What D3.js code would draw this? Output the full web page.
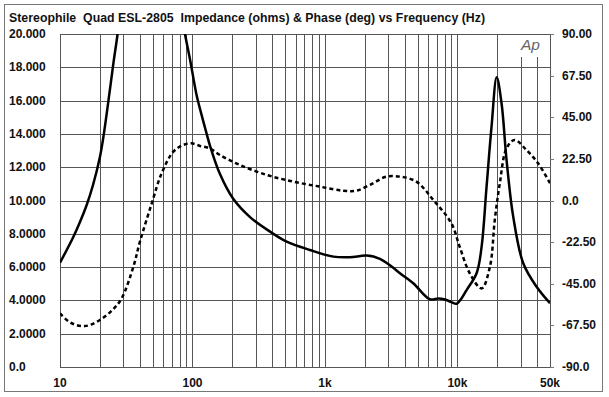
<!DOCTYPE html>
<html>
<head>
<meta charset="utf-8">
<script src="https://cdn.jsdelivr.net/npm/d3@7"></script>
<style>
  body { margin: 0; background: #fff; }
  text { font-family: "Liberation Sans", Arial, Helvetica, sans-serif; font-weight: bold; fill: #111; }
  .title { white-space: pre; }
</style>
</head>
<body>
<svg id="chart"></svg>
<script>
// impedance magnitude (ohms) vs frequency (Hz); values above 20 are off the top of the plot
const impFreq = [10, 12.6, 14.15, 15.9, 17.75, 20, 21.2, 23.8, 25.5, 27.2, 29, 45, 83, 87.8, 96, 107.6, 114, 128, 135.5,
  161, 203, 272, 385, 514, 771, 1157, 1545, 2065, 2600, 3185, 3680, 4640, 6200, 7200, 8050, 9000, 9860,
  10700, 11730, 13960, 15230, 16600, 18100, 19800, 21540, 23500, 26380, 31400, 39600, 50000];
const impOhms = [6.26, 7.81, 8.71, 9.73, 10.93, 12.6, 13.75, 16.64, 18.44, 20.0, 22, 35, 21.2, 20.0, 18.44, 16.3, 15.5, 14.0, 13.3,
  11.6, 10.1, 9.0, 8.13, 7.53, 7.03, 6.63, 6.59, 6.69, 6.5, 6.03, 5.63, 5.03, 4.07, 4.12, 4.05, 3.9, 3.8,
  4.1, 4.62, 5.63, 7.23, 10.83, 14.43, 17.4, 15.84, 12.43, 9.03, 6.23, 4.82, 3.83];

// phase (degrees) vs frequency (Hz)
const phFreq = [10, 12, 15.4, 20, 25, 29.2, 35.8, 40.1, 49.3, 58.5, 71.7, 85, 98, 114, 135, 161, 228, 364,
  577, 915, 1370, 1730, 2300, 2900, 3680, 4900, 6580, 9000, 10400, 12400, 15230, 17600, 19150, 20900,
  23500, 27000, 33200, 40800, 50000];
const phDeg = [-61, -66, -67.9, -64.6, -59, -52.9, -35.8, -22.3, -1.5, 14.7, 26.4, 30, 30.9, 29.5, 28.2, 24.6, 19.2, 13.8,
  10.2, 7.5, 5.3, 5.3, 9.3, 12.9, 12.9, 10.2, 0.3, -12.3, -25, -39.4, -47.5, -35.8, -10.5, 9.3,
  28.2, 32.7, 27.3, 20, 9.3];

const leftTicks = [0, 2, 4, 6, 8, 10, 12, 14, 16, 18, 20];
const leftLabels = ["0.0", "2.0000", "4.0000", "6.0000", "8.0000", "10.000", "12.000", "14.000", "16.000", "18.000", "20.000"];
const rightTicks = [-90, -67.5, -45, -22.5, 0, 22.5, 45, 67.5, 90];
const rightLabels = ["-90.0", "-67.50", "-45.00", "-22.50", "0.0", "22.50", "45.00", "67.50", "90.00"];
const bottomTicks = [10, 100, 1000, 10000, 50000];
const bottomLabels = ["10", "100", "1k", "10k", "50k"];

const titleText = "Stereophile  Quad ESL-2805  Impedance (ohms) & Phase (deg) vs Frequency (Hz)";

const W = 609, H = 397;
const plot = {left: 60, right: 550, top: 34, bottom: 367};

const svg = d3.select("#chart").attr("width", W).attr("height", H);

// outer frame
svg.append("rect")
  .attr("x", 4.5).attr("y", 4.5)
  .attr("width", 598).attr("height", 387)
  .attr("fill", "#fff").attr("stroke", "#777");

const x = d3.scaleLog().domain([10, 50000]).range([plot.left, plot.right]);
const yImp = d3.scaleLinear().domain([0, 20]).range([plot.bottom, plot.top]);
const yPh = d3.scaleLinear().domain([-90, 90]).range([plot.bottom, plot.top]);

// gridlines
const grid = svg.append("g").attr("shape-rendering", "crispEdges").attr("stroke", "#555").attr("stroke-width", 1);
grid.selectAll(".vline")
  .data(x.ticks())
  .join("line")
  .attr("class", "vline")
  .attr("x1", d => Math.round(x(d)) + 0.5).attr("x2", d => Math.round(x(d)) + 0.5)
  .attr("y1", plot.top).attr("y2", plot.bottom);
grid.selectAll(".hline")
  .data(leftTicks)
  .join("line")
  .attr("class", "hline")
  .attr("x1", plot.left).attr("x2", plot.right)
  .attr("y1", d => Math.round(yImp(d)) + 0.5).attr("y2", d => Math.round(yImp(d)) + 0.5);

// right-side phase tick marks
grid.selectAll(".rtick")
  .data(rightTicks)
  .join("line")
  .attr("class", "rtick")
  .attr("stroke", "#777")
  .attr("x1", plot.right).attr("x2", plot.right + 4)
  .attr("y1", d => Math.round(yPh(d)) + 0.5).attr("y2", d => Math.round(yPh(d)) + 0.5);

// Ap logo patch
svg.append("rect")
  .attr("x", x(24000)).attr("y", plot.top + 1)
  .attr("width", x(48000) - x(24000)).attr("height", 22)
  .attr("fill", "#fff");
svg.append("text")
  .attr("x", 521).attr("y", 50)
  .style("font-family", "'Liberation Sans', Arial, sans-serif")
  .style("font-weight", "normal")
  .style("font-style", "italic")
  .style("font-size", "15.5px")
  .style("fill", "#666")
  .text("Ap");

// clip to plot
svg.append("defs").append("clipPath").attr("id", "plot-clip")
  .append("rect")
  .attr("x", plot.left).attr("y", plot.top)
  .attr("width", plot.right - plot.left).attr("height", plot.bottom - plot.top);

const curves = svg.append("g").attr("clip-path", "url(#plot-clip)");

const impLine = d3.line()
  .x((d, i) => x(impFreq[i]))
  .y(d => yImp(d))
  .curve(d3.curveCatmullRom.alpha(0.5));
const phLine = d3.line()
  .x((d, i) => x(phFreq[i]))
  .y(d => yPh(d))
  .curve(d3.curveCatmullRom.alpha(0.5));

curves.append("path")
  .attr("d", phLine(phDeg))
  .attr("fill", "none")
  .attr("stroke", "#000")
  .attr("stroke-width", 2.5)
  .attr("stroke-dasharray", "4,3");

curves.append("path")
  .attr("d", impLine(impOhms))
  .attr("fill", "none")
  .attr("stroke", "#000")
  .attr("stroke-width", 2.5);

// labels
svg.append("text")
  .attr("class", "title")
  .attr("x", 9).attr("y", 21.5)
  .attr("textLength", 476)
  .attr("lengthAdjust", "spacing")
  .style("font-size", "12.3px")
  .text(titleText);

svg.selectAll(".llab")
  .data(leftTicks)
  .join("text")
  .attr("class", "llab")
  .attr("x", 9)
  .attr("y", d => yImp(d))
  .attr("dy", "0.34em")
  .style("font-size", "12px")
  .text((d, i) => leftLabels[i]);

svg.selectAll(".rlab")
  .data(rightTicks)
  .join("text")
  .attr("class", "rlab")
  .attr("x", 562)
  .attr("y", d => yPh(d))
  .attr("dy", "0.34em")
  .style("font-size", "12px")
  .text((d, i) => rightLabels[i]);

svg.selectAll(".blab")
  .data(bottomTicks)
  .join("text")
  .attr("class", "blab")
  .attr("x", d => x(d))
  .attr("y", 387)
  .attr("text-anchor", "middle")
  .style("font-size", "12px")
  .text((d, i) => bottomLabels[i]);
</script>
</body>
</html>
